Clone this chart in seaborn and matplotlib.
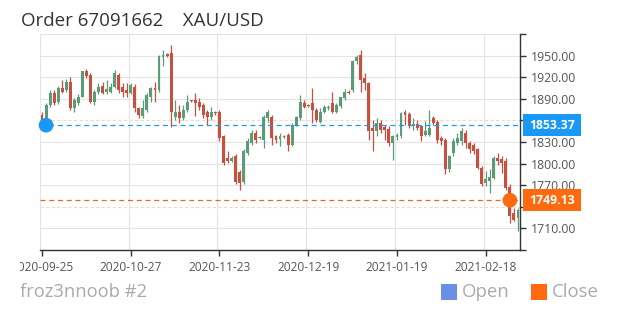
import numpy as np
import pandas as pd
import matplotlib
matplotlib.use("Agg")
import matplotlib.pyplot as plt
from matplotlib.patches import Rectangle
from matplotlib.transforms import Bbox
import seaborn as sns

title = "Order 67091662    XAU/USD"
footer = "froz3nnoob #2"
tick_labels = ["2020-09-25", "2020-10-27", "2020-11-23", "2020-12-19", "2021-01-19", "2021-02-18"]
label_every = 22

open_ = [1868, 1863.5, 1881, 1898, 1886, 1905, 1902, 1914, 1877, 1884,
         1893, 1928, 1923, 1886, 1900, 1908, 1899, 1900, 1907, 1923,
         1907, 1902, 1898, 1907, 1877, 1866, 1875, 1893, 1905, 1902,
         1948, 1952, 1953, 1865, 1872, 1864, 1875, 1888, 1888, 1886,
         1882, 1872, 1865, 1872, 1872, 1838, 1808, 1804, 1810, 1789,
         1775, 1815, 1829, 1842, 1836, 1833, 1863, 1865, 1838, 1834,
         1838, 1840, 1826, 1854, 1863, 1884, 1881, 1884, 1875, 1858,
         1872, 1877, 1884, 1872, 1880, 1891, 1900, 1902, 1942, 1951,
         1919, 1912, 1849, 1845, 1856, 1851, 1848, 1829, 1837, 1838,
         1872, 1869, 1852, 1855, 1852, 1840, 1840, 1863, 1858, 1836,
         1833, 1792, 1815, 1829, 1831, 1842, 1829, 1826, 1820, 1794,
         1773, 1776, 1780, 1808, 1806, 1803, 1768, 1731, 1725]
close = [1861, 1881.5, 1898, 1884, 1905, 1900, 1914, 1877, 1889, 1893,
         1928, 1921, 1886, 1900, 1907, 1898, 1903, 1907, 1926, 1902,
         1900, 1898, 1909, 1877, 1868, 1877, 1895, 1905, 1902, 1949,
         1951, 1950, 1872, 1872, 1863, 1875, 1886, 1887, 1884, 1879,
         1868, 1865, 1872, 1870, 1836, 1801, 1803, 1808, 1774, 1773,
         1817, 1831, 1842, 1833, 1837, 1865, 1871, 1836, 1833, 1838,
         1837, 1826, 1854, 1865, 1885, 1879, 1880, 1875, 1861, 1872,
         1879, 1879, 1872, 1882, 1892, 1900, 1898, 1942, 1948, 1916,
         1912, 1845, 1845, 1856, 1847, 1846, 1829, 1838, 1840, 1870,
         1868, 1854, 1855, 1849, 1839, 1845, 1849, 1856, 1833, 1831,
         1792, 1810, 1831, 1836, 1845, 1829, 1820, 1817, 1794, 1771,
         1778, 1782, 1808, 1803, 1801, 1766, 1727, 1722, 1736]
high = [1872, 1884, 1902, 1902, 1908, 1916, 1917, 1920, 1891, 1896,
        1929, 1932, 1926, 1902, 1912, 1914, 1916, 1912, 1930, 1926,
        1912, 1912, 1912, 1910, 1879, 1889, 1898, 1907, 1914, 1951,
        1958, 1953, 1965, 1889, 1882, 1882, 1895, 1889, 1898, 1891,
        1884, 1875, 1879, 1873, 1875, 1840, 1817, 1810, 1813, 1791,
        1820, 1835, 1846, 1847, 1839, 1868, 1875, 1868, 1840, 1842,
        1840, 1842, 1856, 1866, 1895, 1888, 1883, 1905, 1877, 1877,
        1882, 1882, 1900, 1884, 1893, 1903, 1902, 1944, 1951, 1958,
        1926, 1914, 1861, 1863, 1861, 1854, 1852, 1840, 1842, 1872,
        1875, 1872, 1863, 1861, 1853, 1859, 1875, 1866, 1861, 1838,
        1836, 1812, 1836, 1842, 1849, 1847, 1831, 1829, 1822, 1796,
        1790, 1792, 1810, 1815, 1810, 1808, 1771, 1739, 1739]
low = [1858, 1860, 1878, 1881, 1883, 1898, 1900, 1875, 1872, 1881,
       1892, 1919, 1884, 1882, 1896, 1896, 1896, 1898, 1905, 1898,
       1893, 1893, 1896, 1872, 1863, 1863, 1872, 1886, 1886, 1900,
       1935, 1948, 1851, 1861, 1856, 1861, 1872, 1886, 1866, 1875,
       1863, 1853, 1861, 1868, 1831, 1798, 1801, 1802, 1771, 1764,
       1772, 1812, 1826, 1829, 1834, 1822, 1858, 1826, 1829, 1824,
       1835, 1817, 1824, 1852, 1861, 1877, 1878, 1856, 1858, 1856,
       1870, 1875, 1870, 1870, 1877, 1889, 1896, 1900, 1939, 1900,
       1902, 1833, 1817, 1838, 1842, 1833, 1824, 1805, 1833, 1836,
       1854, 1849, 1847, 1847, 1831, 1838, 1838, 1854, 1829, 1826,
       1785, 1789, 1810, 1826, 1826, 1822, 1815, 1813, 1792, 1769,
       1769, 1759, 1778, 1798, 1787, 1764, 1718, 1720, 1706]

order_open = 1853.37
order_open_idx = 1
order_close = 1749.13
order_close_idx = 116
y_min, y_max, y_step = 1680, 1980, 30

UP = "#5b9b78"
DOWN = "#c9503e"
BLUE = "#1a98f5"
ORANGE = "#ff6a0f"

df = pd.DataFrame({"open": open_, "close": close, "high": high, "low": low})
df["idx"] = np.arange(len(df))
df["up"] = df["close"] >= df["open"]
df["color"] = np.where(df["up"], UP, DOWN)
df["bottom"] = df[["open", "close"]].min(axis=1)
df["height"] = (df["close"] - df["open"]).abs().clip(lower=0.9)
n = len(df)

sns.set_theme(style="white")
plt.rcParams["font.family"] = ["Open Sans", "DejaVu Sans"]

fig = plt.figure(figsize=(6.2, 3.1), dpi=100)
ax = fig.add_axes([40 / 620, 1 - 250 / 310, 480 / 620, 216 / 310])

# grid
yt = np.arange(y_min, y_max + 1, y_step)
ax.set_ylim(y_min, y_max)
ax.set_xlim(-0.5, n - 0.5)
for v in yt:
    near_marker = abs(v - order_open) < 15 or abs(v - order_close) < 15
    if near_marker:
        ax.axhline(v, color="#f4d8c6", lw=0.8, ls=(0, (3, 2)), zorder=0)
    else:
        ax.axhline(v, color="#e4e4e4", lw=0.8, zorder=0)
bounds = np.arange(0, n, label_every) - 0.5
for b in bounds:
    ax.axvline(b, color="#e4e4e4", lw=0.8, zorder=0)

# candles
ax.vlines(df["idx"], df["low"], df["high"], colors=df["color"], lw=0.9, zorder=2)
ax.bar(df["idx"], df["height"], bottom=df["bottom"], width=0.72,
       color=df["color"], edgecolor="none", zorder=3)

# order lines
ax.axhline(order_open, color=BLUE, lw=0.9, ls=(0, (4, 3)), zorder=4)
ax.axhline(order_close, color="#e8652e", lw=0.9, ls=(0, (4, 3)), zorder=4)
mk = pd.DataFrame({"x": [order_open_idx, order_close_idx],
                   "y": [order_open, order_close],
                   "kind": ["Open", "Close"]})
sns.scatterplot(data=mk, x="x", y="y", hue="kind",
                palette={"Open": BLUE, "Close": ORANGE},
                s=112, edgecolor="none", legend=False, zorder=6, ax=ax, clip_on=False)

# axes styling
for side in ["left", "top"]:
    ax.spines[side].set_visible(False)
for side in ["right", "bottom"]:
    ax.spines[side].set_color("#333333")
    ax.spines[side].set_linewidth(1)
ax.yaxis.tick_right()
ax.set_yticks(yt)
ylabels = ["" if v in (y_min, y_max) or abs(v - order_open) < 15 or abs(v - order_close) < 15
           else f"{v:.2f}" for v in yt]
ax.set_yticklabels(ylabels)
ax.set_xticks(np.arange(0, n, label_every)[:len(tick_labels)])
ax.set_xticklabels(tick_labels)
ax.tick_params(axis="y", right=True, length=4, width=1, color="#333333",
               labelsize=8.8, labelcolor="#555555", pad=4)
ax.tick_params(axis="x", bottom=True, length=4, width=1, color="#333333",
               labelsize=8.6, labelcolor="#555555", pad=4)
ax.set_xlabel("")
ax.set_ylabel("")
clip = Bbox.from_extents(20, 0, 620, 310)
for lab in ax.get_xticklabels():
    lab.set_clip_on(True)
    lab.set_clip_box(clip)

# value boxes on axis
trans = ax.get_yaxis_transform()
box_w = 58 / 480
box_h = 21.6 * (y_max - y_min) / 216
x0 = (522.7 - 40) / 480
for val, col in [(order_open, BLUE), (order_close, ORANGE)]:
    ax.add_patch(Rectangle((x0, val - box_h / 2), box_w, box_h, transform=trans,
                           facecolor=col, edgecolor="none", clip_on=False, zorder=9))
    ax.text(x0 + box_w / 2, val, f"{val:.2f}", transform=trans, ha="center", va="center",
            color="white", fontsize=8.8, fontweight="bold", clip_on=False, zorder=10)

# title / footer / legend
fig.text(21 / 620, 1 - 21 / 310, title, fontsize=13.5, color="#333333", ha="left", va="center")
fig.text(20 / 620, 1 - 292 / 310, footer, fontsize=13.2, color="#aaaaaa", ha="left", va="center")
for lx, col, lab in [(441, "#6b8ee6", "Open"), (531, ORANGE, "Close")]:
    fig.patches.append(Rectangle((lx / 620, 1 - 300 / 310), 16 / 620, 16 / 310,
                                 transform=fig.transFigure, facecolor=col, edgecolor="none"))
    fig.text((lx + 21) / 620, 1 - 292 / 310, lab, fontsize=13.4, color="#aaaaaa",
             ha="left", va="center")

fig.savefig("out.png", dpi=100)
